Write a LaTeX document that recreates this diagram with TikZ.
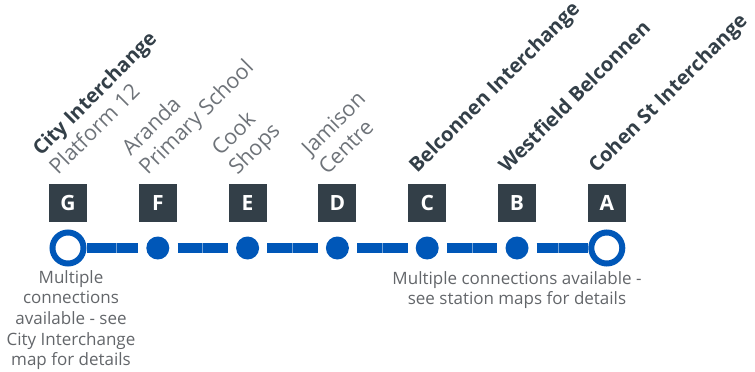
\documentclass[tikz,border=0pt]{standalone}
\usepackage{fontspec}
\setmainfont{Open Sans}
\usetikzlibrary{positioning}
\definecolor{lineblue}{HTML}{0057B8}
\definecolor{boxgrey}{HTML}{333F48}
\definecolor{namegrey}{HTML}{6E7379}
\definecolor{notegrey}{HTML}{63666A}
\tikzset{
  stop/.style={circle, fill=lineblue, minimum size=23pt, inner sep=0pt},
  term/.style={circle, draw=lineblue, line width=6pt, fill=white, minimum size=31pt, inner sep=0pt},
  letter/.style={fill=boxgrey, text=white, minimum size=38pt, inner sep=0pt, font=\bfseries\fontsize{21}{21}\selectfont},
  boldname/.style={rotate=45, anchor=base west, inner sep=0pt, text=boxgrey, font=\bfseries\fontsize{20}{20}\selectfont},
  stopname/.style={boldname, text=namegrey, font=\fontsize{21.5}{21.5}\selectfont},
  seg/.style={draw=lineblue, line width=10pt},
  divider/.style={fill=lineblue!55!white, minimum width=0.8pt, minimum height=10pt, inner sep=0pt},
  note/.style={align=center, anchor=north, inner sep=0pt, text=notegrey, font=\fontsize{17}{20.7}\selectfont}
}

\begin{document}
\begin{tikzpicture}[x=1pt, y=1pt]
  \useasboundingbox (0,0) rectangle (755,-372);

  \node[letter] (boxG) at ( 68.0,-203) {G};
  \node[letter] (boxF) at (157.8,-203) {F};
  \node[letter] (boxE) at (247.6,-203) {E};
  \node[letter] (boxD) at (337.4,-203) {D};
  \node[letter] (boxC) at (427.2,-203) {C};
  \node[letter] (boxB) at (517.0,-203) {B};
  \node[letter] (boxA) at (606.8,-203) {A};

  \node[term] (g) at ( 68.0,-248) {};
  \node[stop] (f) at (157.8,-248) {};
  \node[stop] (e) at (247.6,-248) {};
  \node[stop] (d) at (337.4,-248) {};
  \node[stop] (c) at (427.2,-248) {};
  \node[stop] (b) at (517.0,-248) {};
  \node[term] (a) at (606.8,-248) {};

  \draw[seg, shorten >=8pt] (g) -- (f) node[midway, divider] {};
  \draw[seg, shorten <=8pt, shorten >=8pt] (f) -- (e) node[midway, divider] {};
  \draw[seg, shorten <=8pt, shorten >=8pt] (e) -- (d) node[midway, divider] {};
  \draw[seg, shorten <=8pt, shorten >=8pt] (d) -- (c) node[midway, divider] {};
  \draw[seg, shorten <=8pt, shorten >=8pt] (c) -- (b) node[midway, divider] {};
  \draw[seg, shorten <=8pt] (b) -- (a) node[midway, divider] {};

  \node[stopname] (nameG) at ( 58.0,-176) {Platform 12};
  \node[boldname] (titleG) at ( 41.0,-157) {City Interchange};
  \node[stopname] (nameF) at (147.8,-176) {Primary School};
  \node[stopname] (titleF) at (130.8,-157) {Aranda};
  \node[stopname] (nameE) at (237.6,-176) {Shops};
  \node[stopname] (titleE) at (220.6,-157) {Cook};
  \node[stopname] (nameD) at (327.4,-176) {Centre};
  \node[stopname] (titleD) at (310.4,-157) {Jamison};
  \node[boldname] (nameC) at (417.2,-174) {Belconnen Interchange};
  \node[boldname] (nameB) at (507.0,-174) {Westfield Belconnen};
  \node[boldname] (nameA) at (596.8,-174) {Cohen St Interchange};

  \node[note] (noteG) at (71,-270) {Multiple\\connections\\available - see\\City Interchange\\map for details};
  \node[note] (noteB) at (517,-271) {Multiple connections available -\\see station maps for details};
\end{tikzpicture}
\end{document}
